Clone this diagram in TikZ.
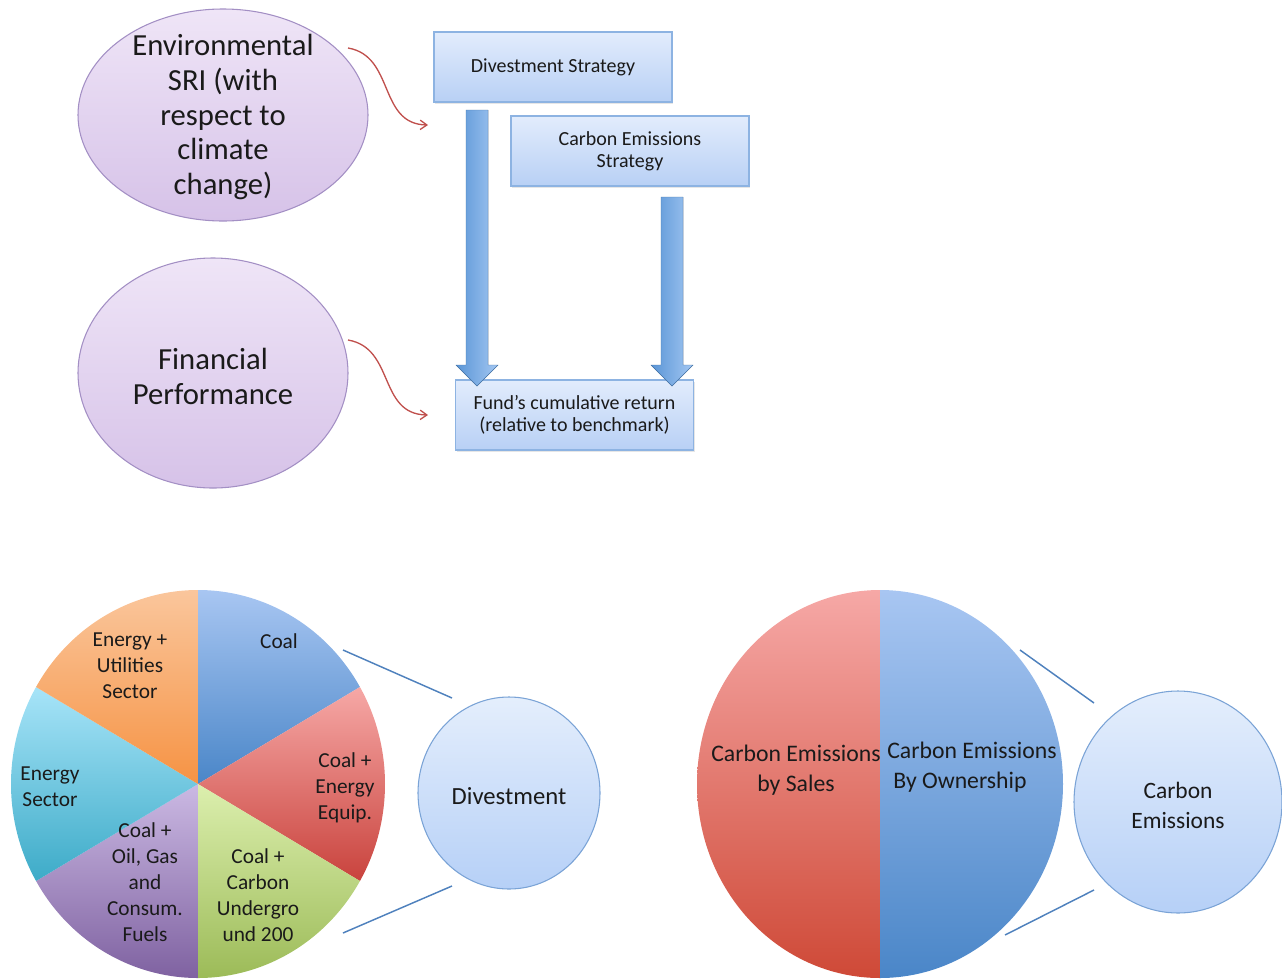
\documentclass[tikz,border=0pt]{standalone}
\usepackage{fontspec}
\setmainfont{Carlito}
\usetikzlibrary{calc,arrows.meta,shadows}
\definecolor{purpT}{HTML}{EFE5F7}
\definecolor{purpB}{HTML}{D6C2E8}
\definecolor{purpD}{HTML}{A38FC4}
\definecolor{boxT}{HTML}{E2ECFC}
\definecolor{boxB}{HTML}{B8D0F5}
\definecolor{boxD}{HTML}{8DB3E2}
\definecolor{arrL}{HTML}{5A95D6}
\definecolor{arrR}{HTML}{A3C7F2}
\definecolor{curvR}{HTML}{C0504D}
\definecolor{lineB}{HTML}{4F81BD}
\definecolor{cirT}{HTML}{E4EEFC}
\definecolor{cirB}{HTML}{B6D0F7}
\definecolor{cirD}{HTML}{7AA3D6}
\definecolor{coalT}{HTML}{A8C6F2}
\definecolor{coalB}{HTML}{4A86C8}
\definecolor{redT}{HTML}{F6A8A6}
\definecolor{redB}{HTML}{C9433D}
\definecolor{grnT}{HTML}{DCEFAE}
\definecolor{grnB}{HTML}{9CBB58}
\definecolor{purT}{HTML}{CBB9E3}
\definecolor{purB}{HTML}{7F62A1}
\definecolor{cyaT}{HTML}{A7E4F8}
\definecolor{cyaB}{HTML}{3DABC8}
\definecolor{orgT}{HTML}{FAC69C}
\definecolor{orgB}{HTML}{F69344}
\definecolor{txt}{HTML}{1A1A1A}
\tikzset{
  stratbox/.style={draw=boxD, top color=boxT, bottom color=boxB, line width=0.8pt,
     drop shadow={opacity=0.2, shadow xshift=1pt, shadow yshift=-1.2pt},
     minimum width=178.5pt, minimum height=52.5pt, align=center, font=\fontsize{15}{16.5}\selectfont, text=txt},
  curvarrow/.style={draw=curvR, line width=1pt, -{Straight Barb[length=5pt,width=7pt]}},
  blockarr/.style={left color=arrL, right color=arrR, draw=arrL!80!black, line width=0.3pt},
  zoomline/.style={draw=lineB, line width=1.1pt},
  pielab/.style={align=center, font=\fontsize{16}{19.5}\selectfont, text=txt},
  biglab/.style={align=center, font=\fontsize{23}{26.2}\selectfont, text=txt},
}
\begin{document}
\begin{tikzpicture}[x=0.75pt,y=-0.75pt]
\useasboundingbox (0,0) rectangle (1282,979);
% top-left ellipses
\shade[top color=purpT, bottom color=purpB] (223,115) ellipse [x radius=145, y radius=106];
\draw[purpD, line width=0.8pt] (223,115) ellipse [x radius=145, y radius=106];
\node[biglab] (env) at (223,117) {Environmental\\SRI (with\\respect to\\climate\\change)};
\shade[top color=purpT, bottom color=purpB] (213,373) ellipse [x radius=135, y radius=115];
\draw[purpD, line width=0.8pt] (213,373) ellipse [x radius=135, y radius=115];
\node[biglab] (fin) at (213,376) {Financial\\Performance};
% boxes
\node[stratbox] (div) at (553,67) {Divestment Strategy};
\node[stratbox] (ces) at (630,151) {Carbon Emissions\\Strategy};
\node[stratbox] (fund) at (574.5,415) {Fund’s cumulative return\\(relative to benchmark)};
% curved arrows
\coordinate (e1) at (348,48);
\coordinate (t1) at (428,125);
\coordinate (e2) at (348,340);
\coordinate (t2) at (428,415);
\draw[curvarrow] (e1) .. controls (395,56) and (378,124) .. (t1);
\draw[curvarrow] (e2) .. controls (395,348) and (378,414) .. (t2);
% block arrows
\filldraw[blockarr] (466,110) -- (488,110) -- (488,365) -- (498,365) -- (477,386) -- (456,365) -- (466,365) -- cycle;
\filldraw[blockarr] (661,197) -- (683,197) -- (683,365) -- (693,365) -- (672,386) -- (651,365) -- (661,365) -- cycle;
% pie 1
\coordinate (p1) at (198,784);
\shade[top color=coalT, bottom color=coalB] (p1) -- ($(p1)+(-90:187 and 194)$) arc[start angle=-90, end angle=-30, x radius=187, y radius=194] -- cycle;
\shade[top color=redT, bottom color=redB] (p1) -- ($(p1)+(-30:187 and 194)$) arc[start angle=-30, end angle=30, x radius=187, y radius=194] -- cycle;
\shade[top color=grnT, bottom color=grnB] (p1) -- ($(p1)+(30:187 and 194)$) arc[start angle=30, end angle=90, x radius=187, y radius=194] -- cycle;
\shade[top color=purT, bottom color=purB] (p1) -- ($(p1)+(90:187 and 194)$) arc[start angle=90, end angle=150, x radius=187, y radius=194] -- cycle;
\shade[top color=cyaT, bottom color=cyaB] (p1) -- ($(p1)+(150:187 and 194)$) arc[start angle=150, end angle=210, x radius=187, y radius=194] -- cycle;
\shade[top color=orgT, bottom color=orgB] (p1) -- ($(p1)+(210:187 and 194)$) arc[start angle=210, end angle=270, x radius=187, y radius=194] -- cycle;
\node[pielab] (s1) at (279,641) {Coal};
\node[pielab] (s2) at (345,788) {Coal +\\Energy\\Equip.};
\node[pielab] (s3) at (258,895) {Coal +\\Carbon\\Undergro\\und 200};
\node[pielab] (s4) at (145,882) {Coal +\\Oil, Gas\\and\\Consum.\\Fuels};
\node[pielab] (s5) at (50,787) {Energy\\Sector};
\node[pielab] (s6) at (130,666) {Energy +\\Utilities\\Sector};
% divestment bubble
\shade[top color=cirT, bottom color=cirB] (509,793) ellipse [x radius=91, y radius=96];
\draw[cirD, line width=0.8pt] (509,793) ellipse [x radius=91, y radius=96];
\node[pielab, font=\fontsize{18.5}{22}\selectfont] (dv) at (509,796) {Divestment};
\coordinate (a1) at (343,650); \coordinate (b1) at (452,698);
\coordinate (a2) at (343,933); \coordinate (b2) at (452,886);
\draw[zoomline] (a1) -- (b1);
\draw[zoomline] (a2) -- (b2);
% pie 2
\coordinate (p2) at (880,784);
\shade[top color=redT, bottom color=redB!90!orange] (p2) -- ($(p2)+(-90:183 and 194)$) arc[start angle=-90, end angle=-270, x radius=183, y radius=194] -- cycle;
\shade[top color=coalT, bottom color=coalB] (p2) -- ($(p2)+(-90:183 and 194)$) arc[start angle=-90, end angle=90, x radius=183, y radius=194] -- cycle;
\node[pielab, font=\fontsize{17.8}{23}\selectfont] (cs) at (796,770) {Carbon Emissions\\by Sales};
\node[pielab, align=left, font=\fontsize{17.8}{23}\selectfont] (co) at (972,767) {Carbon Emissions\\\hspace*{4.5pt}By Ownership};
% carbon emissions bubble
\shade[top color=cirT, bottom color=cirB] (1178,802) ellipse [x radius=104, y radius=111];
\draw[cirD, line width=0.8pt] (1178,802) ellipse [x radius=104, y radius=111];
\node[pielab, font=\fontsize{17.6}{22.5}\selectfont] (ce) at (1178,805) {Carbon\\Emissions};
\coordinate (a3) at (1020,650); \coordinate (b3) at (1094,703);
\coordinate (a4) at (1005,935); \coordinate (b4) at (1094,890);
\draw[zoomline] (a3) -- (b3);
\draw[zoomline] (a4) -- (b4);
\end{tikzpicture}
\end{document}
